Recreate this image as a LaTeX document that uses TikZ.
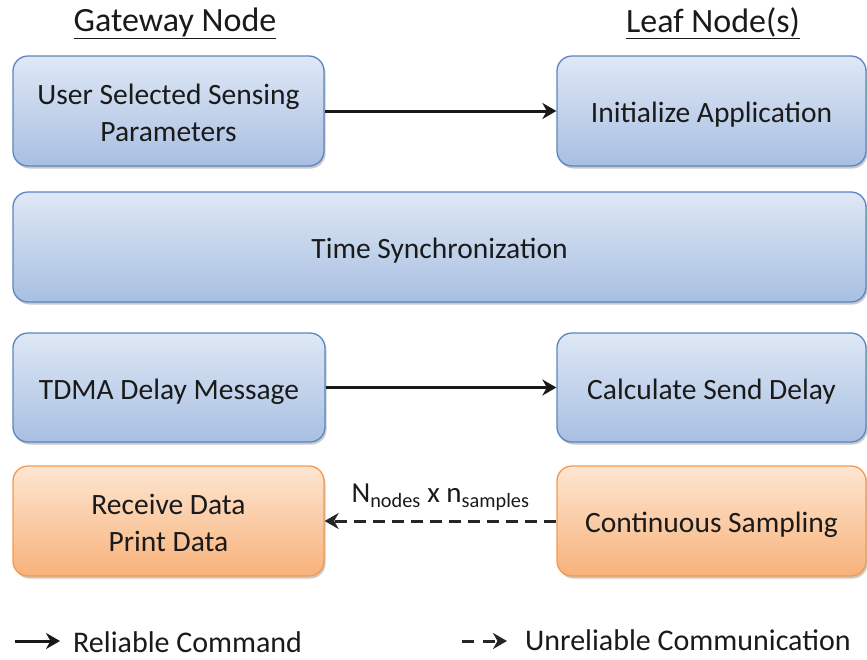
\documentclass[tikz,border=0pt]{standalone}
\usepackage{fontspec}
\setmainfont{Carlito}
\usetikzlibrary{arrows.meta,shadows}
\definecolor{btop}{HTML}{DFE8F5}
\definecolor{bbot}{HTML}{A8BFE2}
\definecolor{bdraw}{HTML}{5A86C2}
\definecolor{otop}{HTML}{FDE6D2}
\definecolor{obot}{HTML}{F8B27A}
\definecolor{odraw}{HTML}{F49A4E}
\definecolor{txt}{HTML}{1A1A1A}
\newcommand{\boxtext}[1]{\raisebox{-4.5pt}[\height][\depth]{\begin{tabular}{@{}c@{}}#1\end{tabular}}}
\tikzset{
  boxbase/.style={rounded corners=15pt, line width=1.3pt, align=center, text=txt,
    font=\fontsize{29.5}{37}\selectfont, inner sep=0pt,
    drop shadow={shadow xshift=1.5pt, shadow yshift=-2.5pt, opacity=0.35, fill=black!60}},
  bluebox/.style={boxbase, draw=bdraw, top color=btop, bottom color=bbot},
  orangebox/.style={boxbase, draw=odraw, top color=otop, bottom color=obot},
  solidarrow/.style={line width=3pt, -{Stealth[length=14pt,width=16pt,inset=4.5pt]}, color=black!90},
  dasharrow/.style={line width=3pt, dash pattern=on 12pt off 7pt, -{Stealth[length=14pt,width=16pt,inset=4.5pt]}, color=black!85},
  heading/.style={font=\fontsize{34}{40}\selectfont, text=txt, inner sep=0pt},
  legtext/.style={font=\fontsize{30}{36}\selectfont, text=txt, anchor=west, inner sep=0pt},
}
\begin{document}
\begin{tikzpicture}[x=1pt,y=-1pt]
\useasboundingbox (0,0) rectangle (867,659);
\node[heading] (gw) at (175,23) {\underline{Gateway Node}};
\node[heading] (leaf) at (713,23) {\underline{Leaf Node(s)}};

\node[bluebox, minimum width=311pt, minimum height=110pt] (ussp) at (168.5,111) {\boxtext{User Selected Sensing\\Parameters}};
\node[bluebox, minimum width=309pt, minimum height=110pt] (init) at (711.5,111) {\boxtext{Initialize Application}};
\node[bluebox, minimum width=853pt, minimum height=110pt] (ts) at (439.5,247) {\boxtext{Time Synchronization}};
\node[bluebox, minimum width=312pt, minimum height=109pt] (tdma) at (169,387.5) {\boxtext{TDMA Delay Message}};
\node[bluebox, minimum width=309pt, minimum height=109pt] (calc) at (711.5,387.5) {\boxtext{Calculate Send Delay}};
\node[orangebox, minimum width=311pt, minimum height=110pt] (recv) at (168.5,521) {\boxtext{Receive Data\\Print Data}};
\node[orangebox, minimum width=309pt, minimum height=110pt] (cont) at (711.5,521) {\boxtext{Continuous Sampling}};

\draw[solidarrow] (ussp.east) -- (init.west);
\draw[solidarrow] (tdma.east) -- (calc.west);
\draw[dasharrow] (cont.west) -- node[above=5pt, font=\fontsize{29}{34}\selectfont, text=txt] (lbl) {N$_{\mathrm{nodes}}$ x n$_{\mathrm{samples}}$} (recv.east);

\coordinate (l1a) at (15,641);
\coordinate (l1b) at (60,641);
\draw[solidarrow] (l1a) -- (l1b);
\node[legtext] (l1t) at (73,642) {Reliable Command};
\coordinate (l2a) at (462,641);
\coordinate (l2b) at (507,641);
\draw[dasharrow, dash pattern=on 12pt off 9pt] (l2a) -- (l2b);
\node[legtext] (l2t) at (525,640) {Unreliable Communication};
\end{tikzpicture}
\end{document}
